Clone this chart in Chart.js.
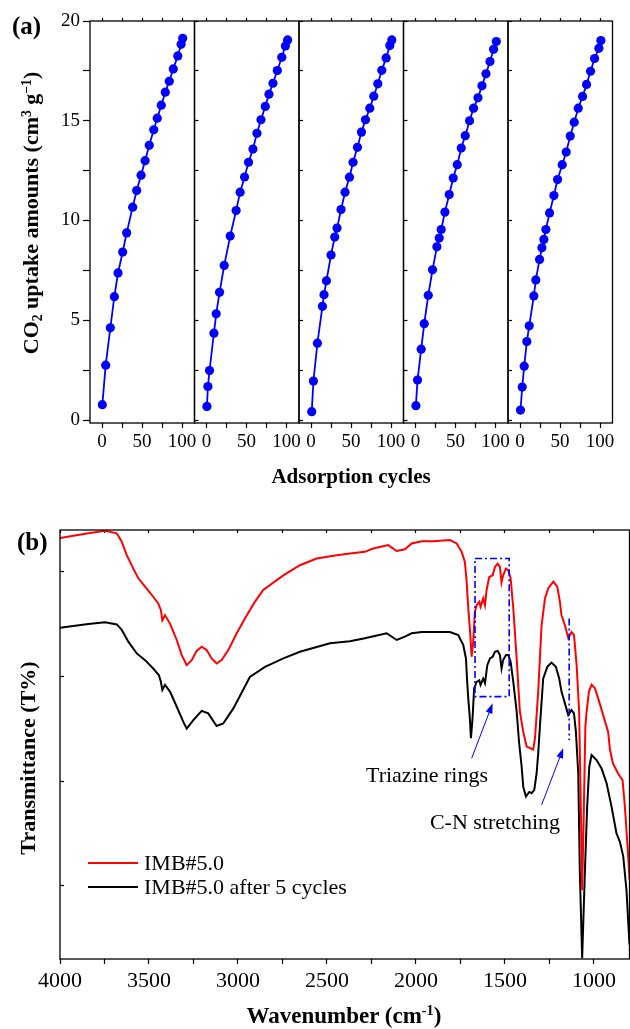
<!DOCTYPE html>
<html>
<head>
<meta charset="utf-8">
<script src="https://cdn.jsdelivr.net/npm/chart.js@4.4.1/dist/chart.umd.min.js"></script>
<style>
  body { margin: 0; background: #fff; }
  #page { position: relative; width: 630px; height: 1029px; overflow: hidden; font-family: "Liberation Serif", "Times New Roman", serif; color: #000; }
  canvas { position: absolute; left: 0; }
  .txt { position: absolute; white-space: nowrap; line-height: 1; }
  .bold { font-weight: bold; }
  .ctr { transform: translate(-50%, -50%); }
  .rot { transform: translate(-50%, -50%) rotate(-90deg); }
  .sub { font-size: 0.62em; vertical-align: -0.28em; }
  .sup { font-size: 0.62em; vertical-align: 0.55em; }
  .key { position: absolute; height: 2px; width: 50px; left: 88px; }
</style>
</head>
<body>
<div id="page">
  <canvas id="a1" width="630" height="500" style="top:0"></canvas>
  <canvas id="a2" width="630" height="500" style="top:0"></canvas>
  <canvas id="a3" width="630" height="500" style="top:0"></canvas>
  <canvas id="a4" width="630" height="500" style="top:0"></canvas>
  <canvas id="a5" width="630" height="500" style="top:0"></canvas>
  <canvas id="b" width="630" height="529" style="top:500px"></canvas>

  <div class="txt bold" style="left:12px;top:13px;font-size:25px">(a)</div>
  <div class="txt bold rot" style="left:32px;top:213px;font-size:22px">CO<span class="sub">2</span> uptake amounts (cm<span class="sup">3</span> g<span class="sup">&minus;1</span>)</div>
  <div class="txt bold ctr" style="left:351px;top:476px;font-size:21px">Adsorption cycles</div>

  <div class="txt bold" style="left:17px;top:529px;font-size:25px">(b)</div>
  <div class="txt bold rot" style="left:28px;top:758px;font-size:22px">Transmittance (T%)</div>
  <div class="txt bold ctr" style="left:344px;top:1015px;font-size:23px">Wavenumber (cm<span class="sup">-1</span>)</div>
  <div class="txt ctr" style="left:427px;top:775px;font-size:22px">Triazine rings</div>
  <div class="txt ctr" style="left:495px;top:822px;font-size:22px">C-N stretching</div>

  <div class="key" style="top:862px;background:#ff0000"></div>
  <div class="txt" style="left:144px;top:852px;font-size:22px">IMB#5.0</div>
  <div class="key" style="top:886px;background:#000"></div>
  <div class="txt" style="left:144px;top:876px;font-size:22px">IMB#5.0 after 5 cycles</div>
</div>

<script>
// (a) CO2 uptake, five runs of adsorption cycles
const cycles1 = [0.4, 4.6, 10.4, 15.4, 20, 25.8, 30.8, 38.3, 43.3, 48.8, 53.8, 59, 64.6, 69, 74, 79, 84, 89, 94.6, 98.8, 100.8];
const uptake1 = [0.77, 2.75, 4.62, 6.18, 7.37, 8.42, 9.38, 10.67, 11.5, 12.27, 13.0, 13.77, 14.55, 15.13, 15.78, 16.43, 16.98, 17.6, 18.25, 18.83, 19.13];
const cycles2 = [0.5, 1.75, 3.75, 9.25, 12.1, 16.3, 22.1, 29.6, 37, 42, 47.5, 52.5, 58, 63, 68, 73.4, 78, 83, 88.4, 94, 98.5, 101.3];
const uptake2 = [0.68, 1.68, 2.48, 4.35, 5.32, 6.4, 7.75, 9.22, 10.5, 11.42, 12.18, 12.92, 13.58, 14.37, 15.05, 15.72, 16.33, 16.88, 17.52, 18.18, 18.75, 19.05];
const cycles3 = [0.9, 3, 8, 14.25, 16.25, 19.25, 25, 29.6, 32.5, 37.5, 42.5, 48, 52.5, 58, 63, 68, 73.4, 78.4, 83.4, 88.4, 93.8, 98.4, 100.9];
const uptake3 = [0.42, 1.95, 3.85, 5.7, 6.28, 6.98, 8.27, 9.17, 9.62, 10.55, 11.42, 12.17, 12.92, 13.67, 14.43, 15.05, 15.63, 16.23, 16.85, 17.53, 18.15, 18.77, 19.05];
const cycles4 = [0.5, 2.5, 7.1, 10.9, 15.9, 21.25, 26.7, 29.6, 32.1, 36.7, 42.1, 47.1, 52.1, 57.1, 62.1, 67.5, 72.5, 78, 83, 88, 93, 97.5, 100.9];
const uptake4 = [0.72, 2.0, 3.55, 4.83, 6.25, 7.53, 8.68, 9.12, 9.55, 10.42, 11.3, 12.13, 12.8, 13.63, 14.25, 15.0, 15.63, 16.15, 16.75, 17.35, 17.97, 18.58, 18.97];
const cycles5 = [0.6, 2.75, 5.25, 8.5, 11.5, 17.25, 19.75, 24.4, 27.3, 29.8, 32.3, 36.9, 42.3, 46.9, 52.7, 57.7, 62.7, 67.7, 72.7, 78.1, 83.1, 88.1, 93.1, 98.5, 101];
const uptake5 = [0.5, 1.65, 2.7, 3.93, 4.72, 6.22, 7.02, 8.05, 8.63, 9.05, 9.55, 10.38, 11.25, 12.05, 12.8, 13.43, 14.23, 14.93, 15.63, 16.22, 16.82, 17.48, 18.12, 18.63, 19.02];
const cycleTicks = [0, 25, 50, 75, 100];
const uptakeTicks = [0, 2.5, 5, 7.5, 10, 12.5, 15, 17.5, 20];

// (b) FTIR spectra, transmittance in arbitrary units
const redWave = [4000,3841,3747,3681,3653,3625,3588,3560,3522,3476,3448,3433,3425,3410,3382,3344,3316,3288,3260,3232,3204,3176,3148,3120,3092,3054,3007,2961,2908,2858,2745,2652,2558,2445,2371,2287,2240,2156,2108,2062,2024,1968,1903,1809,1771,1743,1725,1715,1706,1697,1687,1678,1669,1659,1644,1637,1622,1612,1603,1588,1569,1556,1541,1528,1519,1510,1494,1481,1468,1453,1434,1416,1397,1378,1341,1331,1313,1294,1275,1257,1228,1206,1191,1182,1163,1144,1126,1112,1097,1083,1072,1066,1058,1048,1041,1028,1013,994,976,948,920,910,893,864,839,826,807,800];
const redT = [82.9,84.0,84.6,84.0,82,78.8,75.6,73.3,71.3,68.9,67.3,65.7,63.3,64.5,62.5,58.6,55,52.6,53.8,56,57,56.2,54.2,53,53.8,56.2,60.2,63.7,67.5,70.5,74,76.4,78,78.8,79.2,79.6,80.4,81.2,79.8,80.2,81.6,82.1,82.1,82.4,81.6,79.6,77.2,72.5,66.1,61.4,54.6,58.2,65.3,66.9,67.7,66.5,68.5,66.9,70.5,73.6,74,76,76.8,76,72.3,74,75.6,75.2,73.3,66.1,54.2,41.5,36.7,33.2,32.5,35.2,46.3,62.1,68.5,70.9,72.5,71.3,67.7,64.5,62.1,59,60.5,59.8,52.6,41.5,15,-1,15,38,41.5,46.3,47.9,47.1,44.7,40.7,36.7,32.5,29.2,26.8,25.2,18.9,7,1.5];
const blackWave = [4000,3841,3747,3681,3653,3616,3569,3522,3476,3444,3433,3425,3410,3382,3344,3307,3288,3251,3204,3167,3120,3083,3026,2933,2848,2745,2652,2483,2371,2287,2165,2108,2062,2024,1968,1809,1762,1734,1719,1712,1706,1697,1691,1682,1673,1659,1644,1637,1622,1612,1599,1584,1569,1556,1541,1528,1519,1510,1494,1481,1468,1453,1434,1420,1406,1397,1382,1363,1350,1335,1322,1313,1303,1285,1262,1238,1214,1195,1182,1163,1144,1126,1112,1101,1088,1079,1066,1051,1038,1026,1013,985,957,929,901,873,854,835,817,800];
const blackT = [61.5,62.4,62.8,62.3,61,58.2,55.4,53.8,51.8,50.2,48.6,46.7,47.9,46.3,42.7,39.1,37.5,39.5,41.7,41.1,38.1,38.7,42.3,49.8,52.2,54.2,55.8,57.8,58.3,59,60.2,58.6,59.4,60.2,60.5,60.5,59.8,57.4,54.2,48.6,44.7,39.9,35.2,39.9,47.1,48.6,49,47.9,49.4,48.3,52.6,54.2,54.6,55.8,56,55,51.8,53.8,55,55,53.4,48.6,41.5,34,28.4,23.6,21.3,22.4,22.1,22.9,26.8,31.6,38.3,49.4,52.2,53.2,52.2,49.4,46.3,43.5,40.7,41.9,41.1,36.7,26.8,3,-17.2,3,18.9,28.4,31.2,30,28,24.5,18.9,12.5,10.5,7,-1,-14];
const waveTicks = [4000,3750,3500,3250,3000,2750,2500,2250,2000,1750,1500,1250,1000];
const transTicks = [0, 25, 50, 75];

// annotation marks (in wavenumber / transmittance units)
const ringBoxWave = [1668, 1476];
const ringBoxT = [78, 45.1];
const cnLineWave = 1139;
const cnLineT = [63.7, 34.8];
const ringArrow = [[1687, 30.4], [1569, 43.5]];
const cnArrow = [[1294, 19.3], [1172, 32.8]];

const serif = 'Liberation Serif';

const frame = {
    id: 'frame',
    afterDraw(chart) {
        const { ctx, chartArea: a } = chart;
        ctx.save();
        ctx.strokeStyle = '#000';
        ctx.lineWidth = 1.3;
        ctx.strokeRect(a.left, a.top, a.right - a.left, a.bottom - a.top);
        ctx.restore();
    }
};

function setTicks(list) {
    return scale => { scale.ticks = list.map(v => ({ value: v })); };
}

//Panel (a)
const panelW = 104.5;
const panelLeft = [90, 194.5, 299, 403.5, 508];
const allCycles = [cycles1, cycles2, cycles3, cycles4, cycles5];
const allUptake = [uptake1, uptake2, uptake3, uptake4, uptake5];

allCycles.forEach((cyc, i) => {
    const first = i === 0;
    new Chart(document.getElementById('a' + (i + 1)), {
        type: 'line',
        data: {
            datasets: [{
                data: cyc.map((c, k) => ({ x: c, y: allUptake[i][k] })),
                borderColor: '#0000ff',
                backgroundColor: '#0000ff',
                borderWidth: 1.8,
                pointRadius: 4.6,
                pointBorderWidth: 0,
                tension: 0
            }]
        },
        options: {
            responsive: false,
            animation: false,
            devicePixelRatio: 1,
            layout: {
                padding: {
                    left: first ? panelLeft[0] - 40 : panelLeft[i],
                    right: 630 - panelLeft[i] - panelW,
                    top: 21,
                    bottom: 500 - 423 - 40
                }
            },
            plugins: { legend: { display: false }, tooltip: { enabled: false } },
            scales: {
                x: {
                    type: 'linear', min: -15, max: 115.5,
                    afterBuildTicks: setTicks(cycleTicks),
                    afterFit: s => { s.height = 40; },
                    border: { display: false },
                    grid: { drawOnChartArea: false, color: '#000', tickLength: 5, tickWidth: 1.2 },
                    ticks: {
                        autoSkip: false, maxRotation: 0, padding: 3, color: '#000',
                        font: { family: serif, size: 19 },
                        callback: v => (v % 50 === 0 ? v : '')
                    }
                },
                xTop: {
                    type: 'linear', position: 'top', min: -15, max: 115.5,
                    afterBuildTicks: setTicks(cycleTicks),
                    afterFit: s => { s.height = 0; },
                    border: { display: false },
                    grid: { drawOnChartArea: false, color: '#000', tickLength: 3, tickWidth: 1.2 },
                    ticks: { display: false }
                },
                y: {
                    min: -0.15, max: 20,
                    afterBuildTicks: setTicks(uptakeTicks),
                    afterFit: s => { s.width = first ? 40 : 0; },
                    border: { display: false },
                    grid: { drawOnChartArea: false, color: '#000', tickLength: first ? 7 : -4, tickWidth: 1.2 },
                    ticks: {
                        display: first, padding: 3, color: '#000',
                        font: { family: serif, size: 19 },
                        callback: v => (v % 5 === 0 ? v : '')
                    }
                }
            }
        },
        plugins: [frame]
    });
});

//Panel (b)
const annotate = {
    id: 'annotate',
    afterDatasetsDraw(chart) {
        const { ctx, scales: { x, y } } = chart;
        ctx.save();
        ctx.strokeStyle = '#0000ff';
        ctx.fillStyle = '#0000ff';
        ctx.lineWidth = 1.6;
        ctx.setLineDash([7, 3, 2, 3]);
        const bx1 = x.getPixelForValue(ringBoxWave[0]);
        const bx2 = x.getPixelForValue(ringBoxWave[1]);
        const by1 = y.getPixelForValue(ringBoxT[0]);
        const by2 = y.getPixelForValue(ringBoxT[1]);
        ctx.strokeRect(bx1, by1, bx2 - bx1, by2 - by1);
        const lx = x.getPixelForValue(cnLineWave);
        ctx.beginPath();
        ctx.moveTo(lx, y.getPixelForValue(cnLineT[0]));
        ctx.lineTo(lx, y.getPixelForValue(cnLineT[1]));
        ctx.stroke();
        ctx.setLineDash([]);
        ctx.lineWidth = 1;
        [ringArrow, cnArrow].forEach(([from, to]) => {
            const x1 = x.getPixelForValue(from[0]), y1 = y.getPixelForValue(from[1]);
            const x2 = x.getPixelForValue(to[0]), y2 = y.getPixelForValue(to[1]);
            const ang = Math.atan2(y2 - y1, x2 - x1);
            ctx.beginPath();
            ctx.moveTo(x1, y1);
            ctx.lineTo(x2 - 8 * Math.cos(ang), y2 - 8 * Math.sin(ang));
            ctx.stroke();
            ctx.beginPath();
            ctx.moveTo(x2, y2);
            ctx.lineTo(x2 - 10 * Math.cos(ang) + 3.5 * Math.sin(ang), y2 - 10 * Math.sin(ang) - 3.5 * Math.cos(ang));
            ctx.lineTo(x2 - 10 * Math.cos(ang) - 3.5 * Math.sin(ang), y2 - 10 * Math.sin(ang) + 3.5 * Math.cos(ang));
            ctx.closePath();
            ctx.fill();
        });
        ctx.restore();
    }
};

new Chart(document.getElementById('b'), {
    type: 'line',
    data: {
        datasets: [
            {
                label: 'IMB#5.0',
                data: redWave.map((w, k) => ({ x: w, y: redT[k] })),
                borderColor: '#ff0000',
                borderWidth: 2,
                pointRadius: 0,
                tension: 0
            },
            {
                label: 'IMB#5.0 after 5 cycles',
                data: blackWave.map((w, k) => ({ x: w, y: blackT[k] })),
                borderColor: '#000000',
                borderWidth: 2,
                pointRadius: 0,
                tension: 0
            }
        ]
    },
    options: {
        responsive: false,
        animation: false,
        devicePixelRatio: 1,
        layout: { padding: { left: 60, right: 0.5, top: 30, bottom: 529 - 459 - 40 } },
        plugins: { legend: { display: false }, tooltip: { enabled: false } },
        scales: {
            x: {
                type: 'linear', min: 800, max: 4000, reverse: true,
                afterBuildTicks: setTicks(waveTicks),
                afterFit: s => { s.height = 40; },
                border: { display: false },
                grid: { drawOnChartArea: false, color: '#000', tickLength: 5, tickWidth: 1.2 },
                ticks: {
                    autoSkip: false, maxRotation: 0, padding: 4, color: '#000',
                    font: { family: serif, size: 22 },
                    callback: v => (v % 500 === 0 ? v : '')
                }
            },
            xTop: {
                type: 'linear', position: 'top', min: 800, max: 4000, reverse: true,
                afterBuildTicks: setTicks(waveTicks),
                afterFit: s => { s.height = 0; },
                border: { display: false },
                grid: { drawOnChartArea: false, color: '#000', tickLength: -3, tickWidth: 1.2 },
                ticks: { display: false }
            },
            y: {
                min: -17.4, max: 84.8,
                afterBuildTicks: setTicks(transTicks),
                afterFit: s => { s.width = 0; },
                border: { display: false },
                grid: { drawOnChartArea: false, color: '#000', tickLength: -4, tickWidth: 1.2 },
                ticks: { display: false }
            }
        }
    },
    plugins: [annotate, frame]
});
</script>
</body>
</html>
